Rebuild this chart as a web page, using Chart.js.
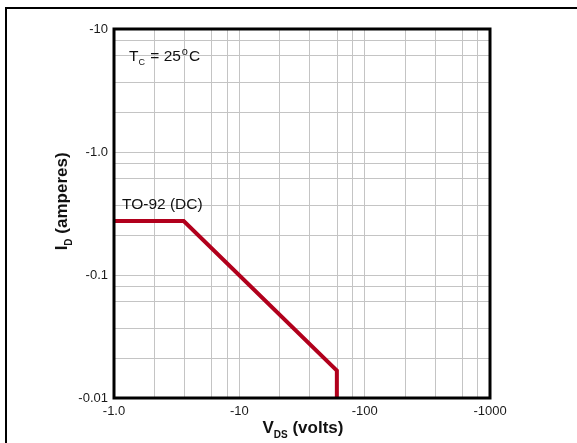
<!DOCTYPE html>
<html>
<head>
<meta charset="utf-8">
<script src="https://cdn.jsdelivr.net/npm/chart.js@4"></script>
<style>
  html, body { margin: 0; padding: 0; background: #fff; }
  canvas { display: block; }
</style>
</head>
<body>
<canvas id="soaChart" width="577" height="443"></canvas>
<script>
// safe operating area, TO-92 (DC), Tc = 25C
const vdsVolts = [-1, -3.6, -60, -60];
const idAmps = [-0.275, -0.275, -0.0167, -0.01];

const xTickValues = [1, 10, 100, 1000];
const xTickLabels = ["-1.0", "-10", "-100", "-1000"];
const yTickValues = [0.01, 0.1, 1, 10];
const yTickLabels = ["-0.01", "-0.1", "-1.0", "-10"];
// minor grid lines inside each decade (as drawn on the original)
const gridSteps = [2.1, 3.65, 6.05, 8.0];

const FONT = "'Liberation Sans', Arial, sans-serif";

const withMinor = (decades) => {
  const out = [];
  decades.forEach((d, i) => {
    out.push(d);
    if (i < decades.length - 1) gridSteps.forEach((s) => out.push(d * s));
  });
  return out;
};

const labelFor = (values, labels) => (v) => {
  const i = values.findIndex((d) => Math.abs(d - v) / d < 1e-6);
  return i >= 0 ? labels[i] : "";
};

const points = vdsVolts.map((v, i) => ({ x: Math.abs(v), y: Math.abs(idAmps[i]) }));

const drawSub = (ctx, x, y, main, sub, size, weight) => {
  ctx.font = `${weight} ${size}px ${FONT}`;
  ctx.fillText(main, x, y);
  x += ctx.measureText(main).width;
  ctx.font = `${weight} ${Math.round(size * 0.58)}px ${FONT}`;
  ctx.fillText(sub, x, y + size * 0.28);
  return x + ctx.measureText(sub).width;
};

const decorations = {
  id: "decorations",
  afterDraw(chart) {
    const { ctx, chartArea: a } = chart;
    ctx.save();
    ctx.fillStyle = "#111";
    ctx.textBaseline = "alphabetic";
    ctx.textAlign = "left";

    // outer frame (top + left only)
    ctx.strokeStyle = "#000";
    ctx.lineWidth = 2;
    ctx.beginPath();
    ctx.moveTo(577, 8);
    ctx.lineTo(6, 8);
    ctx.lineTo(6, 443);
    ctx.stroke();

    // plot border
    ctx.lineWidth = 3;
    ctx.strokeRect(a.left, a.top, a.right - a.left, a.bottom - a.top);

    // Tc note
    let x = drawSub(ctx, 129, 60.5, "T", "C", 15.5, "normal");
    ctx.font = `normal 15.5px ${FONT}`;
    ctx.fillText(" = 25", x + 1, 60.5);
    x += 1 + ctx.measureText(" = 25").width;
    ctx.font = `normal 11px ${FONT}`;
    ctx.fillText("o", x + 1, 54.5);
    x += 1 + ctx.measureText("o").width;
    ctx.font = `normal 15.5px ${FONT}`;
    ctx.fillText("C", x + 1, 60.5);

    // curve label
    ctx.fillText("TO-92 (DC)", 122, 208.5);

    // x axis title
    ctx.font = `bold 17px ${FONT}`;
    const xw = ctx.measureText("V").width + 12 + ctx.measureText(" (volts)").width;
    x = drawSub(ctx, (a.left + a.right) / 2 - xw / 2, 433, "V", "DS", 17, "bold");
    ctx.font = `bold 17px ${FONT}`;
    ctx.fillText(" (volts)", x, 433);

    // y axis title
    ctx.translate(67, 202);
    ctx.rotate(-Math.PI / 2);
    ctx.font = `bold 17px ${FONT}`;
    const yw = ctx.measureText("I").width + 6 + ctx.measureText(" (amperes)").width;
    x = drawSub(ctx, -yw / 2, 0, "I", "D", 17, "bold");
    ctx.font = `bold 17px ${FONT}`;
    ctx.fillText(" (amperes)", x, 0);
    ctx.restore();
  },
};

new Chart(document.getElementById("soaChart"), {
  type: "line",
  data: {
    datasets: [
      {
        data: points,
        borderColor: "#b1001c",
        borderWidth: 4,
        pointRadius: 0,
        tension: 0,
        fill: false,
      },
    ],
  },
  options: {
    responsive: false,
    animation: false,
    layout: { padding: { left: 0, top: 29, right: 87, bottom: 0 } },
    plugins: { legend: { display: false }, tooltip: { enabled: false } },
    scales: {
      x: {
        type: "logarithmic",
        min: 1,
        max: 1000,
        afterBuildTicks: (s) => { s.ticks = withMinor(xTickValues).map((v) => ({ value: v })); },
        afterFit: (s) => { s.height = 45; },
        grid: { color: "#c4c4c4", lineWidth: 1, drawTicks: false },
        border: { display: false },
        ticks: {
          autoSkip: false,
          maxRotation: 0,
          padding: 6,
          color: "#1a1a1a",
          font: { family: FONT, size: 13 },
          callback: labelFor(xTickValues, xTickLabels),
        },
      },
      y: {
        type: "logarithmic",
        min: 0.01,
        max: 10,
        afterBuildTicks: (s) => { s.ticks = withMinor(yTickValues).map((v) => ({ value: v })); },
        afterFit: (s) => { s.width = 114; },
        grid: { color: "#c4c4c4", lineWidth: 1, drawTicks: false },
        border: { display: false },
        ticks: {
          autoSkip: false,
          padding: 6,
          color: "#1a1a1a",
          font: { family: FONT, size: 13 },
          callback: labelFor(yTickValues, yTickLabels),
        },
      },
    },
  },
  plugins: [decorations],
});
</script>
</body>
</html>
